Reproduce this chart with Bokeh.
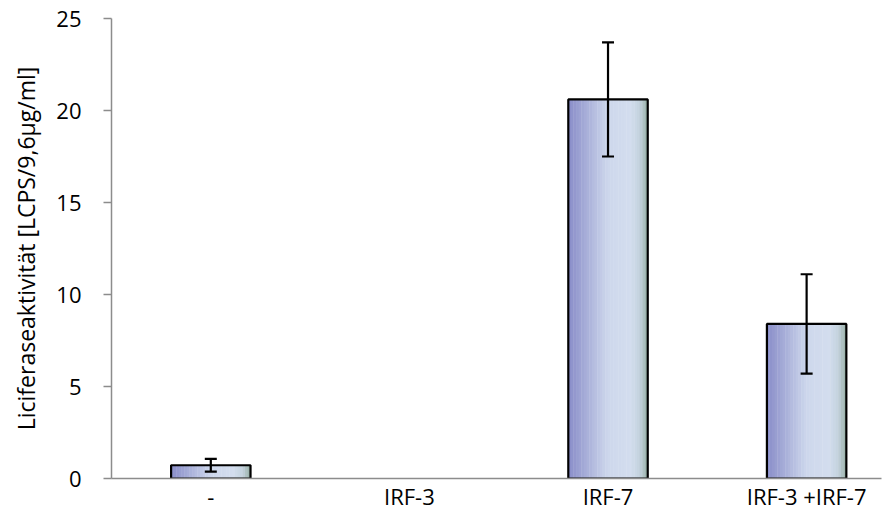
from bokeh.plotting import figure
from bokeh.models import (ColumnDataSource, Range1d, FixedTicker,
                          Whisker, CDSView, BooleanFilter)
from bokeh.transform import dodge
from bokeh.embed import file_html
from bokeh.resources import INLINE

categories = ["-", "IRF-3", "IRF-7", "IRF-3 +IRF-7"]
values = [0.72, 0.0, 20.6, 8.4]
errors = [0.35, 0.0, 3.1, 2.7]
y_ticks = [0, 5, 10, 15, 20, 25]
y_label = "Liciferaseaktivität [LCPS/9,6µg/ml]"

FONT = "Open Sans"
BAR_W = 0.40

pos = list(range(len(categories)))
src = ColumnDataSource(dict(x=pos, cat=categories, val=values))
nonzero = CDSView(filter=BooleanFilter([v > 0 for v in values]))
has_err = [e > 0 for e in errors]

p = figure(x_range=Range1d(-0.5, 3.377), y_range=Range1d(0, 25),
           width=893, height=520, output_backend="svg", toolbar_location=None,
           min_border_left=111, min_border_right=12, min_border_top=18,
           min_border_bottom=42)
p.outline_line_color = None
p.grid.visible = False

# gradient fill simulated by thin strips
stops = [(0.0, (136, 140, 200)), (0.5, (205, 215, 236)), (0.78, (211, 221, 238)),
         (0.9, (196, 210, 222)), (1.0, (152, 176, 166))]

def col(t):
    for (t0, c0), (t1, c1) in zip(stops[:-1], stops[1:]):
        if t0 <= t <= t1:
            f = (t - t0) / (t1 - t0) if t1 > t0 else 0
            return "#%02x%02x%02x" % tuple(int(round(a + (b - a) * f)) for a, b in zip(c0, c1))
    return "#%02x%02x%02x" % stops[-1][1]

N = 30
sw = BAR_W / N
for i in range(N):
    off = -BAR_W / 2 + sw * (i + 0.5)
    p.vbar(x=dodge("x", off), top="val", width=sw * 1.15,
           source=src, view=nonzero, fill_color=col((i + 0.5) / N), line_color=None)

p.vbar(x="x", top="val", width=BAR_W, source=src, view=nonzero,
       fill_color=None, line_color="black", line_width=2.2)

esrc = ColumnDataSource(dict(
    x=[x for x, h in zip(pos, has_err) if h],
    lo=[v - e for v, e, h in zip(values, errors, has_err) if h],
    hi=[v + e for v, e, h in zip(values, errors, has_err) if h],
))
w = Whisker(source=esrc, base="x", upper="hi", lower="lo",
            line_color="black", line_width=2.2, level="overlay")
for h in (w.upper_head, w.lower_head):
    h.size = 12
    h.line_width = 2.2
    h.line_color = "black"
p.add_layout(w)

ya = p.yaxis[0]
ya.ticker = FixedTicker(ticks=y_ticks)
ya.axis_label = y_label
ya.axis_label_text_font = FONT
ya.axis_label_text_font_size = "23px"
ya.axis_label_text_font_style = "normal"
ya.axis_label_text_color = "black"
ya.axis_label_standoff = 11
ya.major_label_text_font = FONT
ya.major_label_text_font_size = "22px"
ya.major_label_text_color = "black"
ya.major_label_standoff = 22
ya.major_tick_out = 8
ya.major_tick_in = 0
ya.minor_tick_line_color = None
ya.axis_line_color = "#8c8c8c"
ya.axis_line_width = 1.5
ya.major_tick_line_color = "#8c8c8c"
ya.major_tick_line_width = 1.5

xa = p.xaxis[0]
xa.ticker = FixedTicker(ticks=pos)
xa.major_label_overrides = {i: c for i, c in zip(pos, categories)}
xa.major_label_text_font = FONT
xa.major_label_text_font_size = "22px"
xa.major_label_text_color = "black"
xa.major_label_standoff = -4
xa.major_tick_line_color = None
xa.minor_tick_line_color = None
xa.axis_line_color = "#8c8c8c"
xa.axis_line_width = 1.5

open("out.html", "w").write(file_html(p, INLINE))
